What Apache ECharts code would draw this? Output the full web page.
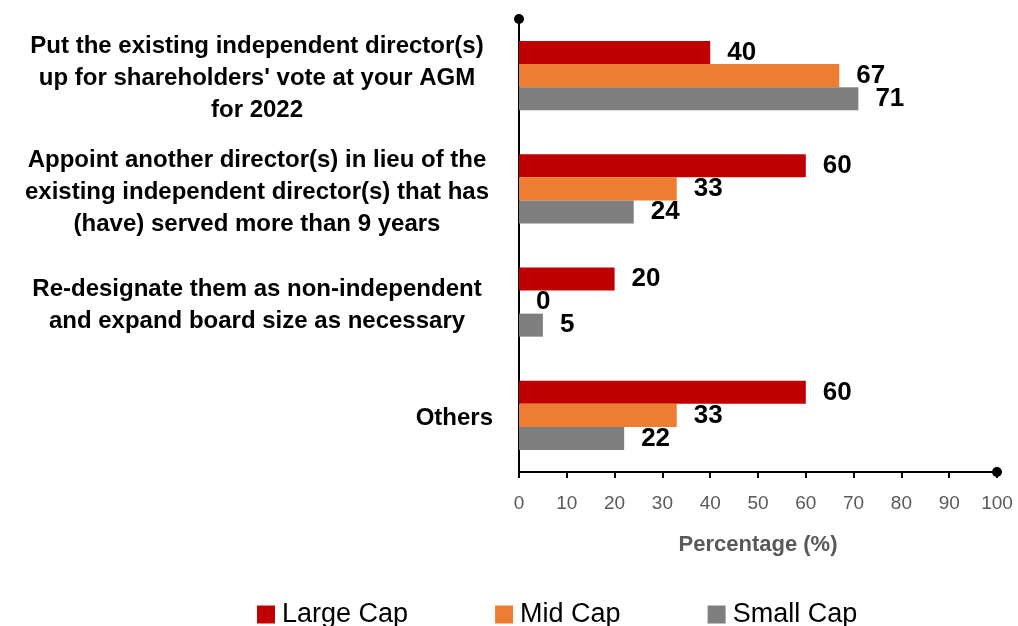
<!DOCTYPE html>
<html>
<head>
<meta charset="utf-8">
<script src="https://cdn.jsdelivr.net/npm/echarts@6/dist/echarts.min.js"></script>
<style>
  html, body { margin: 0; padding: 0; background: #fff; }
  #chart { width: 1018px; height: 626px; }
</style>
</head>
<body>
<div id="chart"></div>
<script>
const categories = [
  "Put the existing independent director(s)\nup for shareholders' vote at your AGM\nfor 2022",
  "Appoint another director(s) in lieu of the\nexisting independent director(s) that has\n(have) served more than 9 years",
  "Re-designate them as non-independent\nand expand board size as necessary",
  "Others",
]
const largeCap = [40, 60, 20, 60]
const midCap = [67, 33, 0, 33]
const smallCap = [71, 24, 5, 22]
const xTicks = [0, 10, 20, 30, 40, 50, 60, 70, 80, 90, 100]

const font = "Liberation Sans"
const chart = echarts.init(document.getElementById("chart"))

const barLabel = {
  show: true,
  position: "right",
  distance: 17,
  color: "#000",
  fontFamily: font,
  fontWeight: "bold",
  fontSize: 26,
}

const makeSeries = (name, data, color) => ({
  name,
  type: "bar",
  data,
  barGap: "0%",
  barCategoryGap: "39%",
  itemStyle: {color},
  label: barLabel,
})

chart.setOption({
  animation: false,
  textStyle: {fontFamily: font},
  grid: {left: 519, right: 21, top: 19, bottom: 154, containLabel: false},
  legend: {
    top: 596,
    left: 252,
    itemWidth: 18,
    itemHeight: 18,
    itemGap: 87,
    icon: "rect",
    textStyle: {fontFamily: font, fontSize: 27, color: "#000", padding: [0, 0, 0, 2]},
    data: ["Large Cap", "Mid Cap", "Small Cap"],
  },
  xAxis: {
    type: "value",
    min: xTicks[0],
    max: xTicks[xTicks.length - 1],
    interval: 10,
    name: "Percentage (%)",
    nameLocation: "middle",
    nameGap: 62,
    nameTextStyle: {fontFamily: font, fontWeight: "bold", fontSize: 22, color: "#595959"},
    axisLine: {
      show: true,
      lineStyle: {color: "#000", width: 2},
      symbol: ["none", "circle"],
      symbolSize: [10, 10],
    },
    axisTick: {show: true, length: 6, lineStyle: {color: "#000", width: 2}},
    axisLabel: {fontSize: 19, color: "#595959", margin: 22, fontFamily: font},
    splitLine: {show: false},
  },
  yAxis: {
    type: "category",
    inverse: true,
    data: categories,
    axisLine: {
      show: true,
      lineStyle: {color: "#000", width: 2},
      symbol: ["none", "circle"],
      symbolSize: [10, 10],
    },
    axisTick: {show: false},
    axisLabel: {
      margin: 26,
      align: "right",
      padding: [6, 0, 0, 0],
      formatter: (value) => {
        const lines = value.split("\n")
        if (lines.length === 1) return "{r|" + value + "}"
        return lines.map(l => "{c|" + l + "}").join("\n")
      },
      rich: {
        c: {width: 472, align: "center", fontSize: 24, fontWeight: "bold", color: "#000", fontFamily: font, lineHeight: 32},
        r: {fontSize: 24, fontWeight: "bold", color: "#000", fontFamily: font, lineHeight: 32},
      },
    },
  },
  series: [
    makeSeries("Large Cap", largeCap, "#C00000"),
    makeSeries("Mid Cap", midCap, "#ED7D31"),
    makeSeries("Small Cap", smallCap, "#7F7F7F"),
  ],
})
</script>
</body>
</html>
